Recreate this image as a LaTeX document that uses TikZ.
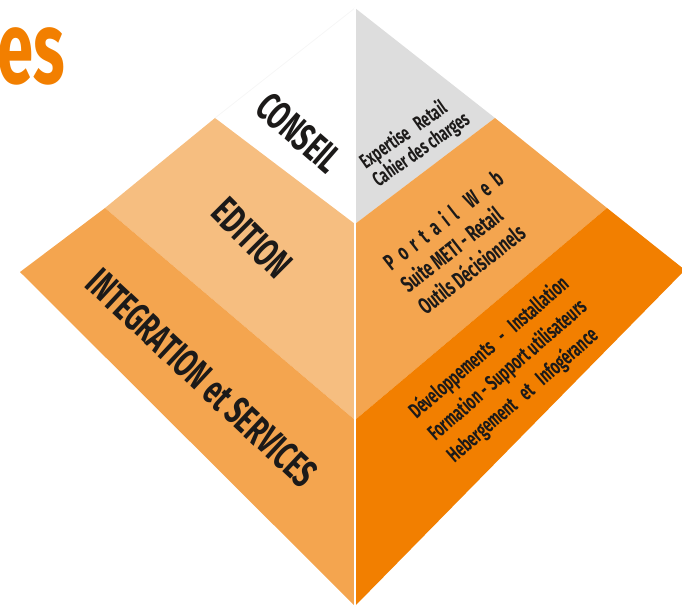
\documentclass[tikz,border=0pt]{standalone}
\usepackage{fontspec}
\setmainfont{Fira Sans}[FakeStretch=0.64]
\definecolor{cgray}{HTML}{DDDDDD}
\definecolor{cpeach}{HTML}{F6BE80}
\definecolor{cmid}{HTML}{F4A54F}
\definecolor{cdark}{HTML}{F27F00}
\definecolor{ctext}{HTML}{1C1A19}
\tikzset{
  biglabel/.style={text=ctext, font=\bfseries\fontsize{40}{40}\selectfont, inner sep=0pt},
  smalllabel/.style={text=ctext, font=\bfseries\fontsize{20.5}{21}\selectfont, align=left, inner sep=0pt},
  midlabel/.style={text=ctext, font=\bfseries\fontsize{23}{28}\selectfont, align=left, inner sep=0pt},
  lowlabel/.style={text=ctext, font=\bfseries\fontsize{21.5}{29}\selectfont, align=left, inner sep=0pt},
}
\begin{document}
\begin{tikzpicture}[x=1pt,y=-1pt]
\useasboundingbox (0,0) rectangle (682,606);
\clip (0,0) rectangle (682,606);
% key points
\coordinate (apex) at (355,8);
\coordinate (L) at (20,272);
\coordinate (B) at (355,606);
\coordinate (R) at (685,270);
\coordinate (lt1) at (215,118);
\coordinate (lt2) at (105,208);
\coordinate (rt1) at (495,118);
\coordinate (rt2) at (607,208);
\coordinate (c1) at (355,224);
\coordinate (c2) at (355,420);
% left faces
\fill[cpeach] (lt1) -- (c1) -- (c2) -- (lt2) -- cycle;
\fill[cmid] (lt2) -- (c2) -- (B) -- (L) -- cycle;
\draw[gray!7, line width=0.8pt] (apex) -- (lt1);
% right faces
\fill[cgray] (apex) -- (rt1) -- (c1) -- cycle;
\fill[cmid] (rt1) -- (rt2) -- (c2) -- (c1) -- cycle;
\fill[cdark] (rt2) -- (R) -- (B) -- (c2) -- cycle;
% central white ridge
\draw[white, line width=2pt] (apex) -- (B);
% title fragment
\node[anchor=base east, text=cdark, font=\bfseries\fontsize{102}{102}\selectfont, inner sep=0pt] (title) at (65,83) {es};
% left labels
\node[biglabel, rotate=-41] (conseil) at (299,133) {CONSEIL};
\node[biglabel, rotate=-45] (edition) at (252,238) {EDITION};
\node[biglabel, rotate=-43] (integ) at (202,378) {INTEGRATION et SERVICES};
% right labels
\node[smalllabel, rotate=35] (conseiltxt) at (415,141) {Expertise\ \ \ Retail\\Cahier des charges};
\node[midlabel, rotate=38] (edtxt) at (460,242) {P\ \ o\ \ r\ \ t\ \ a\ \ i\ \ l\ \ \ \ W\ \ e\ \ b\\Suite METI - Retail\\Outils Décisionnels};
\node[lowlabel, rotate=41] (intxt) at (508,370) {Développements\ \ \ -\ \ \ Installation\\Formation - Support utilisateurs\\Hebergement\ \ \ et\ \ \ Infogérance};
\end{tikzpicture}
\end{document}
